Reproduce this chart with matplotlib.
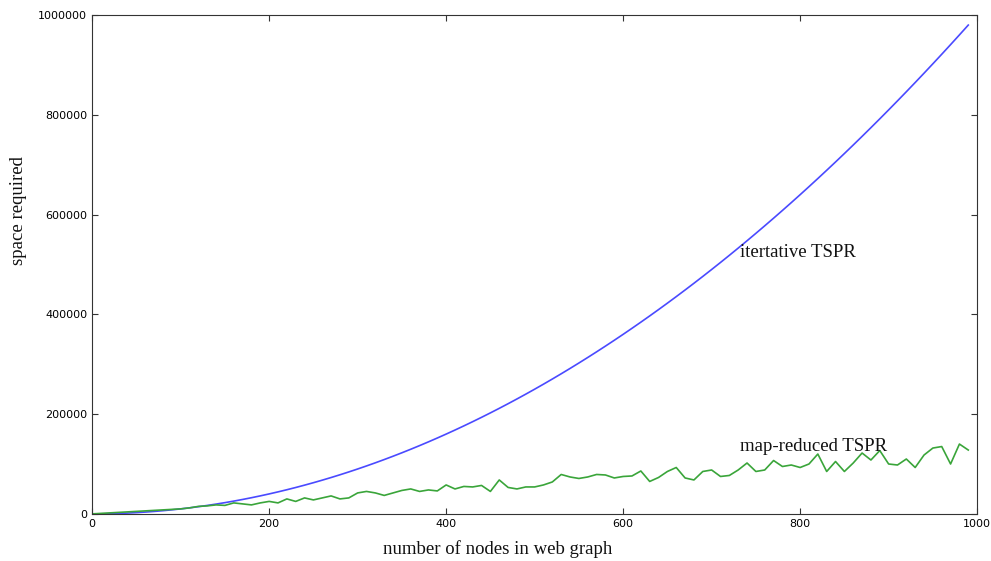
import matplotlib
matplotlib.use("Agg")
import matplotlib.pyplot as plt

nodes = list(range(0, 1000, 10))

iterative_space = [
    0, 100, 400, 900, 1600, 2500, 3600, 4900, 6400, 8100,
    10000, 12100, 14400, 16900, 19600, 22500, 25600, 28900, 32400, 36100,
    40000, 44100, 48400, 52900, 57600, 62500, 67600, 72900, 78400, 84100,
    90000, 96100, 102400, 108900, 115600, 122500, 129600, 136900, 144400, 152100,
    160000, 168100, 176400, 184900, 193600, 202500, 211600, 220900, 230400, 240100,
    250000, 260100, 270400, 280900, 291600, 302500, 313600, 324900, 336400, 348100,
    360000, 372100, 384400, 396900, 409600, 422500, 435600, 448900, 462400, 476100,
    490000, 504100, 518400, 532900, 547600, 562500, 577600, 592900, 608400, 624100,
    640000, 656100, 672400, 688900, 705600, 722500, 739600, 756900, 774400, 792100,
    810000, 828100, 846400, 864900, 883600, 902500, 921600, 940900, 960400, 980100,
]

mapreduced_space = [
    0, 1000, 2000, 3000, 4000, 5000, 6000, 7000, 8000, 9000,
    10000, 12000, 15000, 16000, 18000, 17000, 22000, 20000, 18000, 22000,
    25000, 22000, 30000, 25000, 32000, 28000, 32000, 36000, 30000, 32000,
    42000, 45000, 42000, 37000, 42000, 47000, 50000, 45000, 48000, 46000,
    58000, 50000, 55000, 54000, 57000, 45000, 68000, 53000, 50000, 54000,
    54000, 58000, 64000, 79000, 74000, 71000, 74000, 79000, 78000, 72000,
    75000, 76000, 86000, 65000, 73000, 85000, 93000, 72000, 68000, 85000,
    88000, 75000, 77000, 88000, 102000, 85000, 88000, 107000, 95000, 98000,
    93000, 100000, 120000, 85000, 105000, 85000, 102000, 122000, 108000, 127000,
    100000, 98000, 110000, 93000, 118000, 132000, 135000, 100000, 140000, 128000,
]

labels = ["itertative TSPR", "map-reduced TSPR"]
label_pos = [(732, 525000), (732, 136000)]

fig = plt.figure(figsize=(9.91, 5.61), dpi=100)
ax = fig.add_axes([0.093, 0.084, 0.893, 0.889])

ax.plot(nodes, iterative_space, color="#4a4aff", lw=1.2)
ax.plot(nodes, mapreduced_space, color="#3aa53a", lw=1.2)

serif = ["Liberation Serif", "DejaVu Serif"]
for lab, (lx, ly) in zip(labels, label_pos):
    ax.text(lx, ly, lab, fontsize=13.5, family=serif, va="center", ha="left", color="#111111")

ax.set_xlim(0, 1000)
ax.set_ylim(0, 1000000)
ax.set_xticks([0, 200, 400, 600, 800, 1000])
ax.set_yticks([0, 200000, 400000, 600000, 800000, 1000000])
ax.tick_params(direction="in", length=4, labelsize=8, top=True, right=True, color="#333333")
ax.ticklabel_format(style="plain", axis="y")
for s in ax.spines.values():
    s.set_color("#333333")

ax.set_xlabel("number of nodes in web graph", fontsize=13.5, family=serif, color="#111111")
ax.set_ylabel("space required", fontsize=13.5, family=serif, color="#111111")
ax.xaxis.set_label_coords(0.458, -0.070)
ax.yaxis.set_label_coords(-0.0836, 0.609)
ax.xaxis.label.set_va("center")
ax.yaxis.label.set_va("center")

fig.savefig("out.png", dpi=100)
